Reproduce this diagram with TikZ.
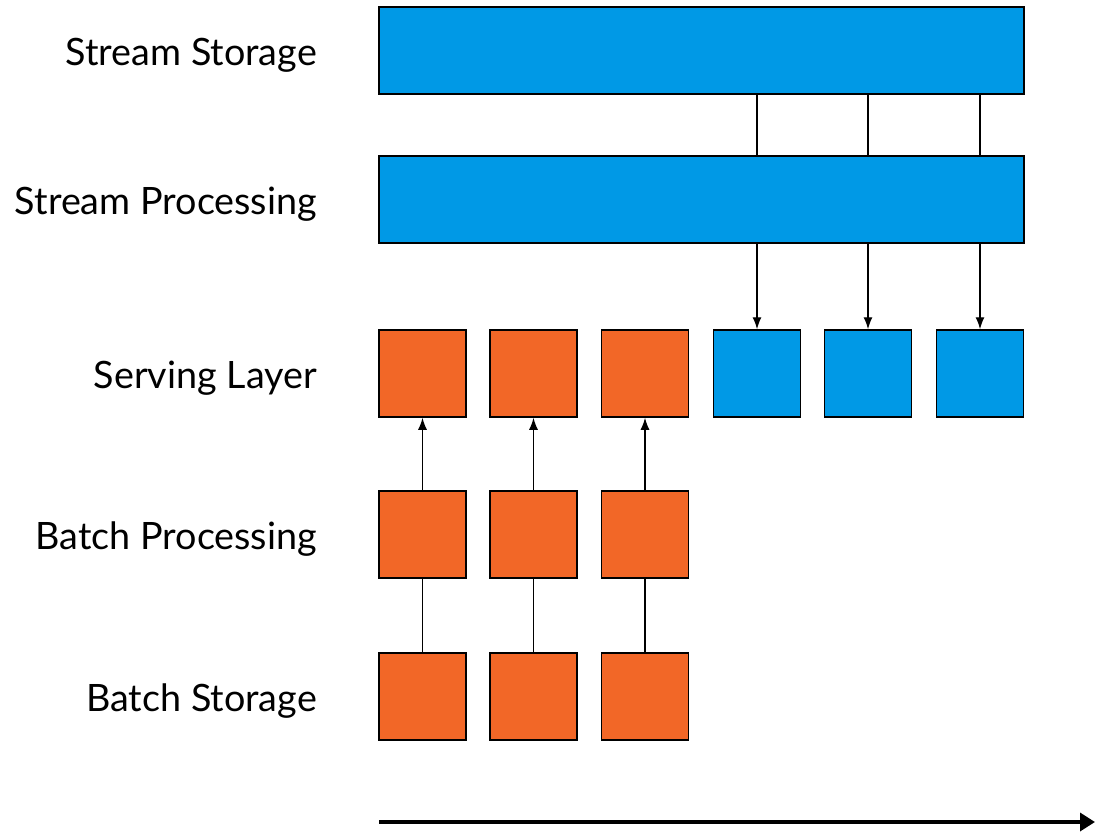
\documentclass[tikz,border=0pt]{standalone}
\usepackage{fontspec}
\setmainfont{Lato}
\usetikzlibrary{arrows.meta}
\definecolor{streamblue}{RGB}{0,153,230}
\definecolor{batchorange}{RGB}{242,103,39}
\tikzset{
  x=1pt, y=-1pt,
  box/.style={draw=black, line width=1.5pt, inner sep=0pt, minimum width=87pt, minimum height=87pt},
  bar/.style={box, minimum width=645pt, fill=streamblue},
  sbox/.style={box, fill=streamblue},
  obox/.style={box, fill=batchorange},
  rowlabel/.style={anchor=base east, font=\fontsize{37.7}{44}\selectfont, inner sep=0pt},
  link/.style={line width=1.3pt},
  flow/.style={line width=1.3pt, -{Latex[length=12pt,width=9pt]}},
}
\begin{document}
\begin{tikzpicture}
\useasboundingbox (0,0) rectangle (1095,833);

% row labels (baselines)
\node[rowlabel] (lss) at (317,65)  {Stream Storage};
\node[rowlabel] (lsp) at (317,214) {Stream Processing};
\node[rowlabel] (lsl) at (317,388) {Serving Layer};
\node[rowlabel] (lbp) at (317,549) {Batch Processing};
\node[rowlabel] (lbs) at (317,711) {Batch Storage};

% stream path
\node[bar] (ss) at (701.5,50.5) {};
\node[bar] (sp) at (701.5,199.5) {};

% serving layer
\node[obox] (v1) at (422.5,373.5) {};
\node[obox] (v2) at (533.5,373.5) {};
\node[obox] (v3) at (645,373.5) {};
\node[sbox] (v4) at (757,373.5) {};
\node[sbox] (v5) at (868,373.5) {};
\node[sbox] (v6) at (980,373.5) {};

% batch processing
\node[obox] (p1) at (422.5,534.5) {};
\node[obox] (p2) at (533.5,534.5) {};
\node[obox] (p3) at (645,534.5) {};

% batch storage
\node[obox] (b1) at (422.5,696.5) {};
\node[obox] (b2) at (533.5,696.5) {};
\node[obox] (b3) at (645,696.5) {};

% stream storage feeds stream processing, which feeds serving
\foreach \v in {v4,v5,v6}{
  \draw[link] (ss.south -| \v.north) -- (sp.north -| \v.north);
  \draw[flow] (sp.south -| \v.north) -- (\v.north);
}

% batch storage feeds batch processing, which feeds serving
\foreach \i in {1,2,3}{
  \draw[link] (b\i.north) -- (p\i.south);
  \draw[flow] (p\i.north) -- (v\i.south);
}

% time axis
\coordinate (t0) at (379,822);
\coordinate (t1) at (1095,822);
\draw[line width=3.5pt, -{Triangle[length=15pt,width=18pt]}] (t0) -- (t1);
\end{tikzpicture}
\end{document}
